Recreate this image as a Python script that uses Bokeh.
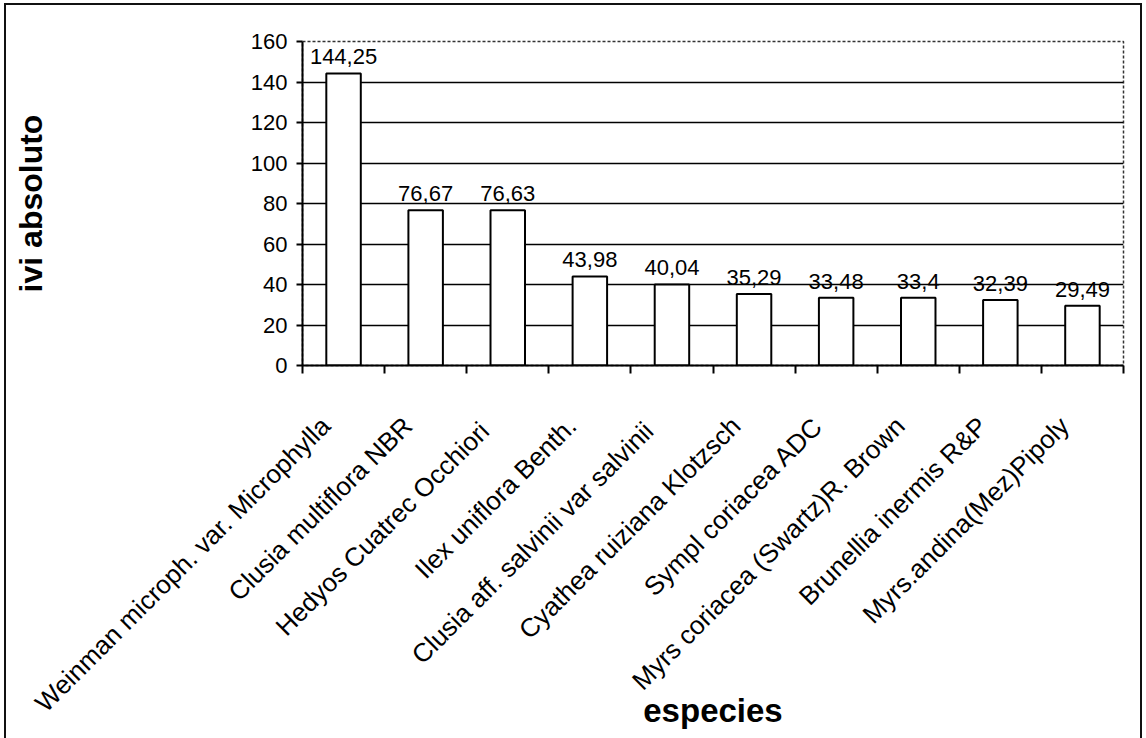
import math

from bokeh.plotting import figure
from bokeh.layouts import column
from bokeh.models import ColumnDataSource, FixedTicker, LabelSet
from bokeh.core.properties import value
from bokeh.embed import file_html
from bokeh.resources import INLINE

# Absolute importance value (IVI) per species
species = [
    "Weinman microph. var. Microphylla",
    "Clusia multiflora NBR",
    "Hedyos Cuatrec  Occhiori",
    "Ilex uniflora Benth.",
    "Clusia aff. salvinii var  salvinii",
    "Cyathea ruiziana Klotzsch",
    "Sympl coriacea ADC",
    "Myrs coriacea (Swartz)R. Brown",
    "Brunellia inermis R&P",
    "Myrs.andina(Mez)Pipoly",
]
ivi = [144.25, 76.67, 76.63, 43.98, 40.04, 35.29, 33.48, 33.4, 32.39, 29.49]
y_ticks = [0, 20, 40, 60, 80, 100, 120, 140, 160]

FONT = "Liberation Sans"

n = len(species)
centers = [i + 0.5 for i in range(n)]
bounds = list(range(n + 1))
# slanted names hang just left of their bar centre
label_pos = [c - 0.22 for c in centers]
labels = [f"{v:g}".replace(".", ",") for v in ivi]

src = ColumnDataSource(dict(x=centers, top=ivi, lab=labels))

p = figure(
    width=1134, height=733,
    x_range=(0, n), y_range=(y_ticks[0], y_ticks[-1]),
    output_backend="svg", toolbar_location=None,
    min_border_left=296, min_border_right=17,
    min_border_top=36, min_border_bottom=373,
)

p.background_fill_color = "white"
p.border_fill_color = "white"
p.outline_line_color = "#333333"
p.outline_line_dash = "3 2"
p.outline_line_width = 1.5

# bars
p.vbar(x="x", top="top", width=0.42, bottom=0, source=src,
       fill_color="white", line_color="black", line_width=2)

# value labels
p.add_layout(LabelSet(
    x="x", y="top", text="lab", source=src,
    text_font=value(FONT), text_font_size="22px",
    text_align="center", text_baseline="alphabetic",
    y_offset=9, text_color="black",
))

# y axis
p.yaxis.ticker = FixedTicker(ticks=y_ticks)
p.yaxis.axis_line_color = "black"
p.yaxis.axis_line_width = 2
p.yaxis.major_tick_out = 6
p.yaxis.major_tick_in = 0
p.yaxis.major_tick_line_width = 2
p.yaxis.minor_tick_line_color = None
p.yaxis.major_label_standoff = 9
p.yaxis.major_label_text_font = FONT
p.yaxis.major_label_text_font_size = "22px"
p.yaxis.major_label_text_color = "black"
p.yaxis.axis_label = "ivi absoluto"
p.yaxis.axis_label_text_font = FONT
p.yaxis.axis_label_text_font_style = "bold"
p.yaxis.axis_label_text_font_size = "32px"
p.yaxis.axis_label_text_color = "black"
p.yaxis.axis_label_standoff = 199

# horizontal grid lines
p.ygrid.ticker = FixedTicker(ticks=y_ticks[1:-1])
p.ygrid.grid_line_color = "black"
p.ygrid.grid_line_width = 1.6
p.xgrid.grid_line_color = None

# x axis: species names under the bars, tick marks at category boundaries
p.xaxis.ticker = FixedTicker(ticks=label_pos, minor_ticks=bounds)
p.xaxis.major_label_overrides = {c: s for c, s in zip(label_pos, species)}
p.xaxis.major_label_orientation = math.pi / 4
p.xaxis.major_tick_line_color = None
p.xaxis.major_tick_out = 0
p.xaxis.major_tick_in = 0
p.xaxis.minor_tick_line_color = "black"
p.xaxis.minor_tick_line_width = 2
p.xaxis.minor_tick_out = 8
p.xaxis.minor_tick_in = 0
p.xaxis.axis_line_color = "black"
p.xaxis.axis_line_width = 2
p.xaxis.major_label_standoff = 48
p.xaxis.major_label_text_font = FONT
p.xaxis.major_label_text_font_size = "26px"
p.xaxis.major_label_text_color = "black"
p.xaxis.axis_label = "especies"
p.xaxis.axis_label_text_font = FONT
p.xaxis.axis_label_text_font_style = "bold"
p.xaxis.axis_label_text_font_size = "33px"
p.xaxis.axis_label_text_color = "black"
p.xaxis.axis_label_standoff = -39

# thin black frame round the whole chart (open at the bottom edge)
page = column(p, margin=(3, 0, 0, 4),
              styles={"border": "2px solid #111111", "border-bottom": "none"})

open("out.html", "w").write(file_html(page, INLINE))
